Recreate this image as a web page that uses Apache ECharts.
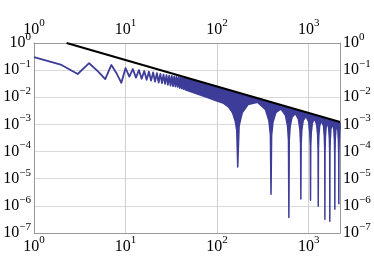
<!DOCTYPE html>
<html><head><meta charset="utf-8">
<script src="https://cdn.jsdelivr.net/npm/echarts@6/dist/echarts.min.js"></script>
<style>html,body{margin:0;padding:0;background:#fff}#c{width:374px;height:256px}</style>
</head><body><div id="c"></div>
<script>
// early individual samples (distinct zigzag)
const zigN = [1,2,3,4,5,6,7,8,9,10,11,12,13,14,15,16,17,18,19,20,21,22,23,24,25,26,27,28,29,30,31,32,33,34,35,36,37,38,39,40,41,42,43,44,45];
const zigVal = [0.30,0.155,0.072,0.18,0.09,0.047,0.155,0.075,0.034,0.12,0.058,0.11,0.053,0.10,0.048,0.093,0.044,0.087,0.041,0.082,0.038,0.077,0.035,0.073,0.033,0.069,0.031,0.066,0.029,0.063,0.027,0.061,0.026,0.059,0.025,0.057,0.024,0.055,0.022,0.053,0.021,0.052,0.020,0.050,0.019];
// dense region: upper envelope of the samples
const bandTopN = [45,60,80,100,130,170,220,300,400,550,700,1000,1400,1800,2200];
const bandTopVal = [0.050,0.039,0.029,0.0233,0.0182,0.0141,0.011,0.0081,0.0061,0.0045,0.0036,0.0025,0.0018,0.0014,0.00114];
// dense region: lower envelope of the samples
const bandLowN = [45,60,80,100,118,135,148,158,164,168,174,188,218,278,
  338,368,382,388,394,408,438,498,
  558,588,602,608,614,628,658,715,
  772,802,816,822,828,842,872,935,
  998,1028,1042,1048,1054,1068,1098,1160,
  1223,1253,1267,1273,1279,1293,1323,1388,
  1454,1484,1498,1504,1510,1524,1554,1603,
  1653,1683,1697,1703,1709,1723,1753,1818,
  1882,1912,1926,1932,1938,1952,1982,2033,
  2085,2115,2129,2135,2141,2155,2185,2200];
const bandLowVal = [0.019,0.0135,0.0095,0.0072,0.006,0.0042,0.0026,0.0013,0.0006,0.000027,0.00089,0.0027,0.0054,0.0065,
  0.0035,0.00137,0.0004,0.0000027,0.00039,0.00123,0.0027,0.0037,
  0.00218,0.00087,0.00026,0.00000037,0.00026,0.00083,0.00185,0.00255,
  0.00158,0.00065,0.00019,0.0000018,0.00019,0.00062,0.0014,0.00197,
  0.00125,0.00051,0.000155,0.0000016,0.000153,0.0005,0.00113,0.00162,
  0.001,0.00042,0.000128,0.00000097,0.000126,0.0004,0.00093,0.00135,
  0.00086,0.00035,0.000108,0.00000032,0.000107,0.00035,0.0008,0.00117,
  0.00075,0.00031,0.000095,0.00000027,0.000095,0.0003,0.0007,0.00104,
  0.00066,0.00027,0.000084,0.00000075,0.000083,0.00027,0.00063,0.00092,
  0.00059,0.00025,0.000075,0.0000012,0.000075,0.00024,0.00057,0.00068];
// bounding line
const boundN = [2.27, 2200];
const boundVal = [1, 0.00123];
// ticks
const xTickExp = [0,1,2,3];
const yTickExp = [0,-1,-2,-3,-4,-5,-6,-7];
const xMin = 1, xMax = 2200, yMin = 1e-7, yMax = 1;

function fmtFactory(exps){
  return function(v){
    const l = Math.log10(v), e = Math.round(l);
    if (Math.abs(l - e) > 1e-6 || exps.indexOf(e) < 0) return '';
    return '{b|10}{s|' + (e < 0 ? '\u2212' + (-e) : e) + '}';
  };
}
const FONT = "'Liberation Serif','DejaVu Serif',serif";
const rich = {
  b: {fontFamily: FONT, fontSize: 16, color: '#000'},
  s: {fontFamily: FONT, fontSize: 11, color: '#000', padding: [0,0,12,0]}
};
const frame = {show: true, lineStyle: {color: '#9a9a9a', width: 1}};
function xAx(pos, grid){
  return {type: 'log', logBase: 10, min: xMin, max: xMax, position: pos,
    axisLine: frame, axisTick: {show: false}, minorTick: {show: false},
    splitLine: {show: grid, lineStyle: {color: '#cfcfcf', width: 1}},
    axisLabel: {formatter: fmtFactory(xTickExp), rich: rich, margin: 2}};
}
function yAx(pos, grid){
  return {type: 'log', logBase: 10, min: yMin, max: yMax, position: pos,
    axisLine: frame, axisTick: {show: false}, minorTick: {show: false},
    splitLine: {show: grid, lineStyle: {color: '#dadada', width: 1}},
    axisLabel: {formatter: fmtFactory(yTickExp), rich: rich, margin: 3}};
}
const chart = echarts.init(document.getElementById('c'), null, {renderer: 'canvas'});
chart.setOption({
  animation: false,
  backgroundColor: '#fff',
  grid: {left: 34, right: 34, top: 43, bottom: 23, containLabel: false, outerBoundsMode: 'none'},
  xAxis: [xAx('bottom', true), xAx('top', false)],
  yAxis: [yAx('left', true), yAx('right', false)],
  series: [
    {type: 'custom', xAxisIndex: 0, yAxisIndex: 0, silent: true, z: 2,
     data: [[1, 1]],
     renderItem: function(params, api){
       const pts = [];
       for (let i = 0; i < bandTopN.length; i++) pts.push(api.coord([bandTopN[i], bandTopVal[i]]));
       for (let i = bandLowN.length - 1; i >= 0; i--) pts.push(api.coord([bandLowN[i], bandLowVal[i]]));
       return {type: 'polygon', shape: {points: pts},
         style: {fill: '#3d3d99', stroke: '#3d3d99', lineWidth: 1.5, lineJoin: 'round'}};
     }},
    {type: 'line', xAxisIndex: 0, yAxisIndex: 0, silent: true, z: 3,
     showSymbol: false, symbol: 'none',
     data: zigN.map((n, i) => [n, zigVal[i]]),
     lineStyle: {color: '#3d3d99', width: 1.8, join: 'round'}},
    {type: 'line', xAxisIndex: 0, yAxisIndex: 0, silent: true, z: 4,
     showSymbol: false, symbol: 'none',
     data: boundN.map((n, i) => [n, boundVal[i]]),
     lineStyle: {color: '#000', width: 2}}
  ]
});
</script></body></html>
